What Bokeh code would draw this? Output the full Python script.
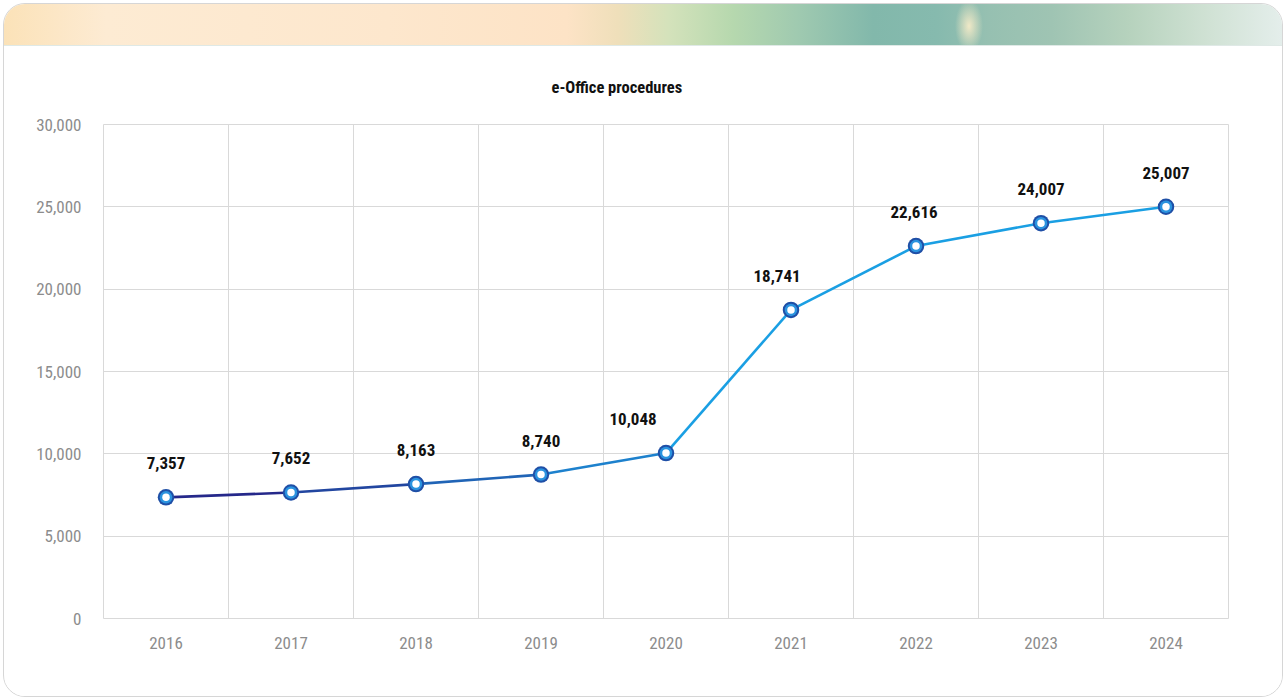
from bokeh.plotting import figure
from bokeh.models import Range1d, FixedTicker, NumeralTickFormatter, Div, ColumnDataSource
from bokeh.layouts import column
from bokeh.core.properties import value
from bokeh.embed import file_html
from bokeh.resources import INLINE

# ---- data ----
years = ["2016", "2017", "2018", "2019", "2020", "2021", "2022", "2023", "2024"]
procedures = [7357, 7652, 8163, 8740, 10048, 18741, 22616, 24007, 25007]
y_ticks = [0, 5000, 10000, 15000, 20000, 25000, 30000]
title_text = "e-Office procedures"

# ---- styles ----
FONT = "Roboto Condensed, Liberation Sans Narrow, DejaVu Sans Condensed, sans-serif"
label_dx = [0, 0, 0, 0, -33, -14, -2, 0, 0]
grid_color = "#d9d9d9"
tick_color = "#8c8c8c"


def lerp_color(c1, c2, t):
    a = [int(c1[i:i + 2], 16) for i in (1, 3, 5)]
    b = [int(c2[i:i + 2], 16) for i in (1, 3, 5)]
    return "#%02x%02x%02x" % tuple(round(a[k] + (b[k] - a[k]) * t) for k in range(3))


n = len(years)
xs = list(range(n))
seg_colors = [lerp_color("#25288a", "#1a9fe3", min(1.0, i / 4.0)) for i in range(n - 1)]

p = figure(
    width=1278, height=650,
    x_range=Range1d(-0.5, n - 0.5), y_range=Range1d(0, y_ticks[-1]),
    output_backend="svg", toolbar_location=None, title=title_text,
    min_border_left=99, min_border_right=54, min_border_top=78, min_border_bottom=78,
    margin=0,
)
p.outline_line_color = grid_color
p.outline_line_width = 1
p.background_fill_color = "white"
p.border_fill_color = "white"

p.title.align = "left"
p.title.offset = 448
p.title.standoff = 56
p.title.text_font = FONT
p.title.text_font_size = "16.5px"
p.title.text_font_style = "bold"
p.title.text_color = "#111111"

# axes
for ax in (p.xaxis[0], p.yaxis[0]):
    ax.axis_line_color = None
    ax.major_tick_line_color = None
    ax.minor_tick_line_color = None
    ax.major_label_text_font = FONT
    ax.major_label_text_font_size = "17px"
    ax.major_label_text_color = tick_color

p.xaxis.ticker = FixedTicker(ticks=xs)
p.xaxis.major_label_overrides = {i: y for i, y in zip(xs, years)}
p.xaxis.major_label_standoff = 12
p.yaxis.ticker = FixedTicker(ticks=y_ticks)
p.yaxis.formatter = NumeralTickFormatter(format="0,0")
p.yaxis.major_label_standoff = 16

p.xgrid.ticker = FixedTicker(ticks=[i - 0.5 for i in range(n + 1)])
p.ygrid.ticker = FixedTicker(ticks=y_ticks)
for g in (p.xgrid[0], p.ygrid[0]):
    g.grid_line_color = grid_color
    g.grid_line_width = 1

# line segments with gradient colours
p.segment(x0=xs[:-1], y0=procedures[:-1], x1=xs[1:], y1=procedures[1:],
          line_color=seg_colors, line_width=2.6)

src = ColumnDataSource(dict(x=xs, y=procedures,
                            label=[f"{v:,}" for v in procedures],
                            dx=label_dx))
p.scatter("x", "y", source=src, size=16.5, fill_color="#1f4fa6", line_color=None)
p.scatter("x", "y", source=src, size=12.5, fill_color="#2a93df", line_color=None)
p.scatter("x", "y", source=src, size=7.5, fill_color="white", line_color=None)

p.text("x", "y", text="label", source=src, x_offset="dx", y_offset=-34,
       text_align="center", text_baseline="middle",
       text_font=value(FONT), text_font_size="17px", text_font_style="bold",
       text_color="#111111")

banner = Div(
    width=1278, height=42, margin=0,
    styles={
        "background": "radial-gradient(ellipse 14px 26px at 965px 22px, rgba(245,235,200,0.95) 0%, rgba(245,235,200,0) 100%), "
                      "linear-gradient(to right, #fbe2b8 0%, #fdebd3 8%, #fde7cd 30%, #fde3c6 44%, "
                      "#efdfba 48%, #d4e2bb 52%, #b6d8ae 57%, #a0cab0 62%, #82b8ab 68%, "
                      "#86baae 73%, #96c0b1 77%, #9fc4b3 82%, "
                      "#b6d2bd 88%, #cfe1d3 94%, #e4eeeb 100%)",
        "border-bottom": "1px solid #dfe9e6",
        "box-sizing": "border-box",
    },
)

layout = column(
    banner, p, spacing=0, margin=(3, 0, 0, 3),
    styles={"border": "1px solid #d6d6d6", "border-radius": "22px", "overflow": "hidden",
            "background": "white"},
)

open("out.html", "w").write(file_html(layout, INLINE))
